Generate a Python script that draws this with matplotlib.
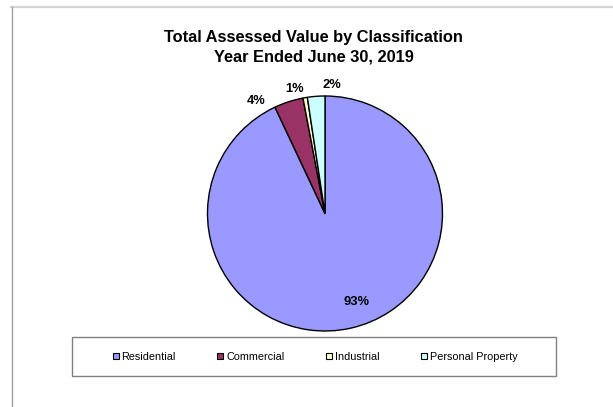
import matplotlib.pyplot as plt
from matplotlib.lines import Line2D
from matplotlib.patches import Rectangle

plt.rcParams['font.family'] = ['Liberation Sans', 'DejaVu Sans']

categories = ['Residential', 'Commercial', 'Industrial', 'Personal Property']
shares = [93.0, 4.0, 0.6, 2.4]
colors = ['#9999FF', '#993366', '#FFFFCC', '#CCFFFF']

# where each percentage label sits, in pie radius units
label_pos = [(0.264, -0.753), (-0.587, 0.96), (-0.26, 1.06), (0.06, 1.094)]

W, H = 613, 407
fig = plt.figure(figsize=(W / 100, H / 100), dpi=100)

# chart area frame (top and left edges)
fig.add_artist(Line2D([11 / W, 1], [1 - 7 / H, 1 - 7 / H], color='#d4d4d4', lw=1.6))
fig.add_artist(Line2D([11.5 / W, 11.5 / W], [0, 1 - 7 / H], color='#a0a0a0', lw=1.0))

fig.text(313.5 / W, 1 - 37.5 / H, 'Total Assessed Value by Classification',
         ha='center', va='center', fontsize=11.8, fontweight='bold')
fig.text(313.5 / W, 1 - 57 / H, 'Year Ended June 30, 2019',
         ha='center', va='center', fontsize=11.8, fontweight='bold')

cx, cy, r = 325, 213.5, 117.5
ax = fig.add_axes([(cx - r) / W, (H - cy - r) / H, 2 * r / W, 2 * r / H])
wedges, texts, autotexts = ax.pie(
    shares, colors=colors, startangle=90, counterclock=False,
    autopct='%.0f%%', wedgeprops=dict(edgecolor='black', linewidth=1.0),
    textprops=dict(fontsize=9.3, fontweight='bold'))
for t, (x, y) in zip(autotexts, label_pos):
    t.set_position((x, y))
    t.set_ha('center')
    t.set_va('center')
ax.set_xlim(-1, 1)
ax.set_ylim(-1, 1)
ax.axis('off')

# legend box
fig.add_artist(Rectangle((72.3 / W, 1 - 375.7 / H), 484 / W, 38.4 / H,
                         transform=fig.transFigure, fill=False,
                         edgecolor='#808080', lw=1.0))
handles = [Line2D([], [], marker='s', ls='none', markersize=5,
                  markerfacecolor=c, markeredgecolor='black',
                  markeredgewidth=0.8) for c in colors]
fig.legend(handles, categories, loc='center', ncol=4,
           bbox_to_anchor=(315 / W, 1 - 356.5 / H), frameon=False,
           fontsize=7.8, handlelength=0.6, handletextpad=0.25,
           columnspacing=3.8)

fig.savefig('out.png', dpi=100)
